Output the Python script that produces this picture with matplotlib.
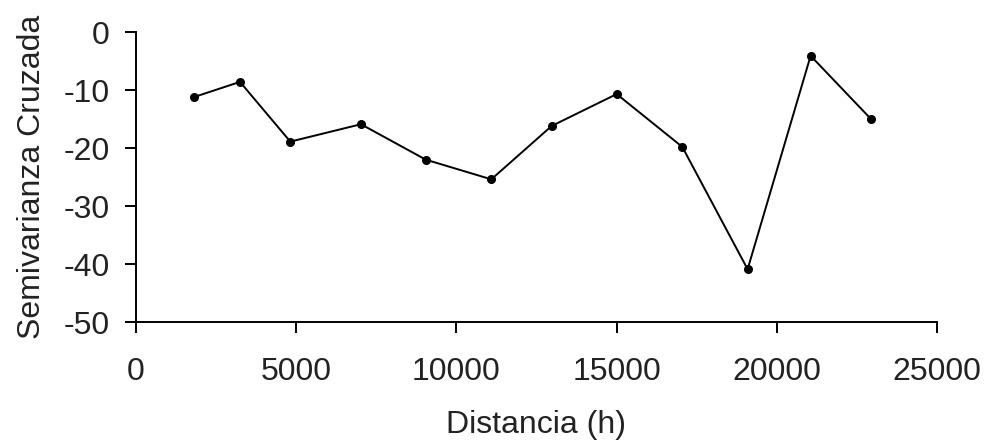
import numpy as np
import pandas as pd
import matplotlib
matplotlib.use("Agg")
import matplotlib.pyplot as plt

# Cross semivariogram values
distancia = [1820, 3246, 4816, 7022, 9041, 11090, 12974, 15003, 17050, 19090, 21057, 22940]
semivarianza = [-11.2, -8.6, -18.9, -15.9, -22.0, -25.4, -16.2, -10.7, -19.8, -40.9, -4.1, -15.0]

x_ticks = [0, 5000, 10000, 15000, 20000, 25000]
y_ticks = [0, -10, -20, -30, -40, -50]

plt.rcParams['font.family'] = ['Liberation Sans', 'DejaVu Sans']
text_color = "#222222"

fig = plt.figure(figsize=(9.87, 4.47), dpi=100)
ax = fig.add_axes([0.1378, 0.2796, 0.8115, 0.6488])

# Plot the series with small dots
ax.plot(distancia, semivarianza, color="black", linewidth=1.4,
        marker="o", markersize=5.5, clip_on=False)

ax.set_xlim(0, 25000)
ax.set_ylim(-50, 0)
ax.set_xticks(x_ticks)
ax.set_yticks(y_ticks)
ax.set_xticklabels([str(t) for t in x_ticks])
ax.set_yticklabels([str(t) for t in y_ticks])

for side in ["top", "right"]:
    ax.spines[side].set_visible(False)
for side in ["left", "bottom"]:
    ax.spines[side].set_linewidth(1.4)
    ax.spines[side].set_color("black")

ax.tick_params(direction="out", length=8, width=1.4, colors="black",
               labelsize=23, labelcolor=text_color)
ax.tick_params(axis="x", pad=17)
ax.tick_params(axis="y", pad=11)

ax.set_xlabel("Distancia (h)", fontsize=23, color=text_color, labelpad=17)
ax.set_ylabel("Semivarianza Cruzada", fontsize=23, color=text_color, labelpad=12)

fig.savefig("out.png", dpi=100)
